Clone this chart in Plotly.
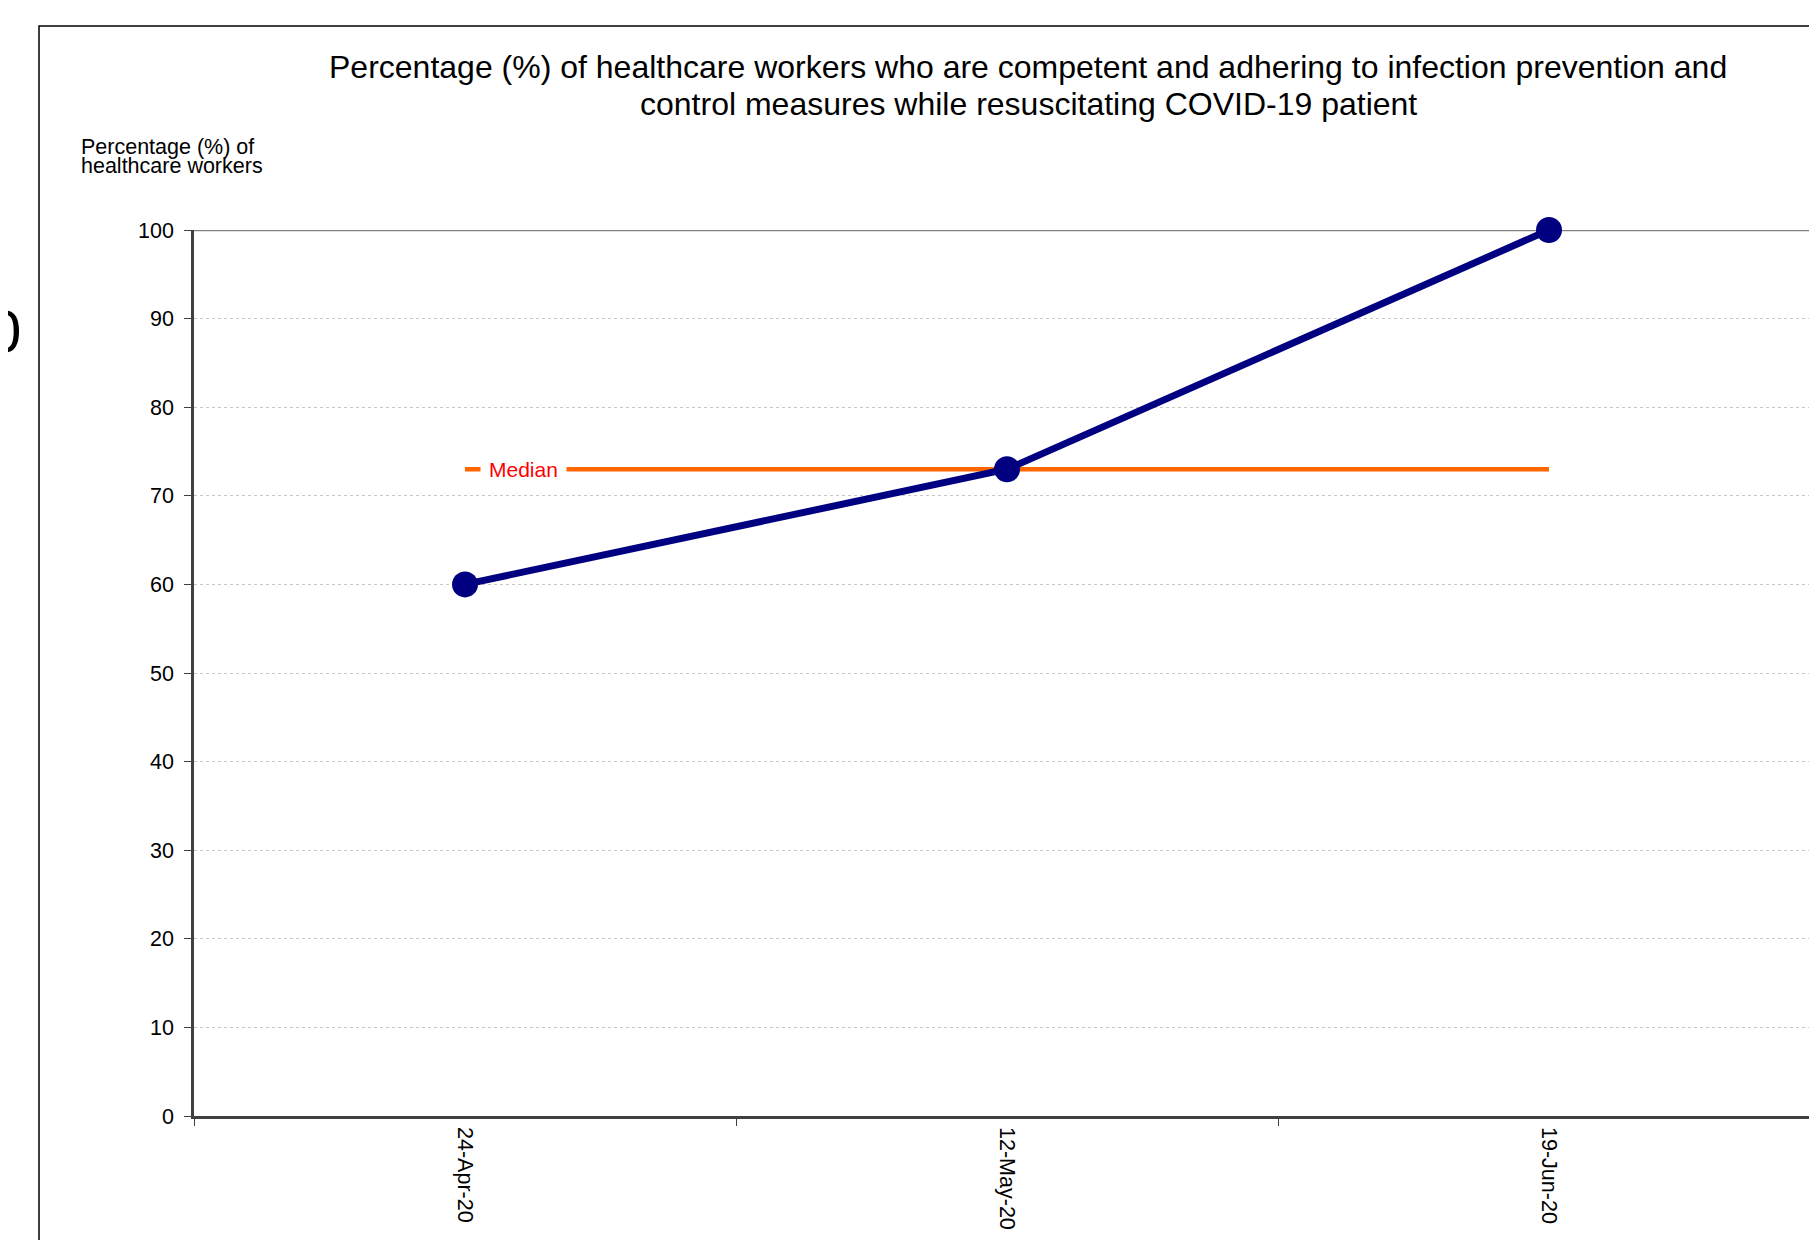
import plotly.graph_objects as go

# ---- data ----
dates = ["24-Apr-20", "12-May-20", "19-Jun-20"]
pct_values = [60, 73, 100]
median_value = 73
y_ticks = [0, 10, 20, 30, 40, 50, 60, 70, 80, 90, 100]

title_line1 = "Percentage (%) of healthcare workers who are competent and adhering to infection prevention and"
title_line2 = "control measures while resuscitating COVID-19 patient"
ytitle_line1 = "Percentage (%) of"
ytitle_line2 = "healthcare workers"
median_label = "Median"

FONT = "Liberation Sans, Arial, sans-serif"

OFF = 8  # page body margin
W, H = 1817, 1240
L, T = 194 - OFF, 230 - OFF
plot_bottom = 1116 - OFF
plot_right = 1820 - OFF
B = H - plot_bottom
R = W - plot_right
plot_w = plot_right - L
plot_h = plot_bottom - T
band = 542.0
x_end = -0.5 + plot_w / band


def px_x(px):  # px given in page coordinates
    return (px - OFF - L) / plot_w


def px_y(py):
    return (plot_bottom - (py - OFF)) / plot_h


fig = go.Figure()

# median line
fig.add_trace(go.Scatter(
    x=dates, y=[median_value] * len(dates), mode="lines",
    line=dict(color="#FF6600", width=4.5), hoverinfo="skip", showlegend=False,
    cliponaxis=False,
))

# main series
fig.add_trace(go.Scatter(
    x=dates, y=pct_values, mode="lines+markers",
    line=dict(color="#000080", width=7),
    marker=dict(color="#000080", size=26),
    showlegend=False, cliponaxis=False,
))

# median label with white background breaking the line
fig.add_annotation(
    x=dates[0], y=median_value, xref="x", yref="y",
    text=median_label, showarrow=False, xshift=58,
    font=dict(family=FONT, size=21, color="#FF0000"),
    bgcolor="white", borderpad=8,
)

# title (two lines, tight spacing)
fig.add_annotation(
    x=px_x(1028), y=px_y(67), xref="paper", yref="paper",
    text=title_line1, showarrow=False, xanchor="center", yanchor="middle",
    font=dict(family=FONT, size=32, color="black"),
)
fig.add_annotation(
    x=px_x(1028), y=px_y(104), xref="paper", yref="paper",
    text=title_line2, showarrow=False, xanchor="center", yanchor="middle",
    font=dict(family=FONT, size=32, color="black"),
)

# y axis title (two tight lines)
fig.add_annotation(
    x=px_x(79), y=px_y(147), xref="paper", yref="paper",
    text=ytitle_line1, showarrow=False, xanchor="left", yanchor="middle",
    font=dict(family=FONT, size=21.5, color="black"),
)
fig.add_annotation(
    x=px_x(79), y=px_y(166), xref="paper", yref="paper",
    text=ytitle_line2, showarrow=False, xanchor="left", yanchor="middle",
    font=dict(family=FONT, size=21.5, color="black"),
)

# cut-off glyph at far left
fig.add_annotation(
    x=px_x(23), y=px_y(332), xref="paper", yref="paper",
    text="0", showarrow=False, xanchor="right", yanchor="middle",
    font=dict(family=FONT, size=60, color="black"),
)

# top line at 100
fig.add_shape(type="line", xref="paper", yref="y", x0=0, x1=1.01, y0=100, y1=100,
              line=dict(color="#808080", width=2.5), layer="below")

# outer frame
fig.add_shape(type="rect", xref="paper", yref="paper",
              x0=px_x(39), x1=px_x(1900), y0=px_y(1300), y1=px_y(26),
              line=dict(color="black", width=1.5), layer="below")

fig.update_layout(
    width=W, height=H,
    margin=dict(l=L, r=R, t=T, b=B, pad=0),
    paper_bgcolor="white", plot_bgcolor="white",
    font=dict(family=FONT, color="black"),
    showlegend=False,
)

fig.update_xaxes(
    type="category", range=[-0.5, x_end],
    tickson="boundaries", ticks="outside", ticklen=7, tickcolor="#404040", tickwidth=1,
    tickangle=90, tickfont=dict(family=FONT, size=21.5, color="black"),
    showline=True, linecolor="#404040", linewidth=2.5,
    showgrid=False, zeroline=False, ticklabelstandoff=4,
)

fig.update_yaxes(
    range=[0, 100], tickvals=y_ticks, ticks="outside", ticklen=7,
    tickcolor="#404040", tickwidth=1,
    tickfont=dict(family=FONT, size=21.5, color="black"),
    showline=True, linecolor="#404040", linewidth=2.5,
    showgrid=True, gridcolor="#c8c8c8", gridwidth=1, griddash="dot",
    zeroline=False, ticklabelstandoff=6,
)

fig.write_html("out.html")
